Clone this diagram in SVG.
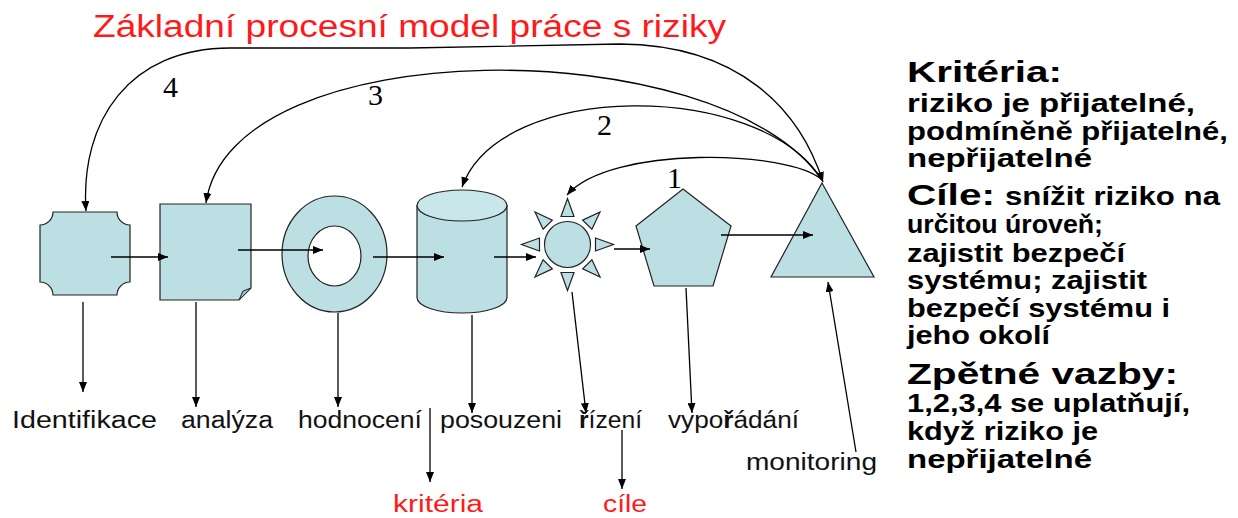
<svg xmlns="http://www.w3.org/2000/svg" xmlns:xlink="http://www.w3.org/1999/xlink" width="1238" height="518" viewBox="0 0 1238 518">
  <style>
    .shape { fill: #BBDFE3; stroke: #222; stroke-width: 1.2; }
    .line { fill: none; stroke: #000; stroke-width: 1.3; marker-end: url(#ah); }
    .title { font-family: "Liberation Sans", Arial, sans-serif; font-size: 31px; fill: #FF1A1A; }
    .lbl { font-family: "Liberation Sans", Arial, sans-serif; font-size: 23.5px; fill: #111; }
    .red { fill: #FF1A1A; }
    .num { font-family: "Liberation Serif", "Times New Roman", serif; font-size: 30px; fill: #000; }
    .head { font-family: "Liberation Sans", Arial, sans-serif; font-weight: bold; font-size: 30px; fill: #000; }
    .body { font-family: "Liberation Sans", Arial, sans-serif; font-weight: bold; font-size: 25px; fill: #000; }
  </style>
  <defs>
    <marker id="ah" markerWidth="10" markerHeight="8" refX="10" refY="4" orient="auto" markerUnits="userSpaceOnUse">
      <path d="M0,0 L10,4 L0,8 Z" fill="#000"/>
    </marker>
    <marker id="ahs" markerWidth="10" markerHeight="8" refX="10" refY="4" orient="auto-start-reverse" markerUnits="userSpaceOnUse">
      <path d="M0,0 L10,4 L0,8 Z" fill="#000"/>
    </marker>
    <polygon id="ray" class="shape" points="595.5,238 613.5,244.5 595.5,251"/>
  </defs>

  <rect width="1238" height="518" fill="#fff"/>

  <text class="title" x="93" y="37" textLength="633" lengthAdjust="spacingAndGlyphs">Základní procesní model práce s riziky</text>

  <!-- process shapes -->
  <g id="identifikace">
    <path class="shape" d="M53 212 H117 A13 13 0 0 0 130 225 V282 A13 13 0 0 0 117 295 H53 A13 13 0 0 0 40 282 V225 A13 13 0 0 0 53 212 Z"/>
  </g>
  <g id="analyza">
    <path class="shape" d="M160 204 H251 V288 L239 300 H160 Z"/>
    <path d="M239 300 L243 291 L251 288 Z" fill="#9CC3C8" stroke="#222" stroke-width="1"/>
  </g>
  <g id="hodnoceni">
    <ellipse class="shape" cx="334.5" cy="254" rx="52.5" ry="58"/>
    <ellipse cx="334.5" cy="256" rx="26.5" ry="30" fill="#fff" stroke="#222" stroke-width="1.2"/>
  </g>
  <g id="posouzeni">
    <path class="shape" d="M417 205.5 V297.5 A45 15.5 0 0 0 507 297.5 V205.5 Z"/>
    <ellipse cx="462" cy="205.5" rx="45" ry="15.5" fill="#C9E7EA" stroke="#222" stroke-width="1.2"/>
  </g>
  <g id="rizeni">
    <circle class="shape" cx="567.5" cy="244.5" r="23"/>
    <use xlink:href="#ray"/>
    <use xlink:href="#ray" transform="rotate(45 567.5 244.5)"/>
    <use xlink:href="#ray" transform="rotate(90 567.5 244.5)"/>
    <use xlink:href="#ray" transform="rotate(135 567.5 244.5)"/>
    <use xlink:href="#ray" transform="rotate(180 567.5 244.5)"/>
    <use xlink:href="#ray" transform="rotate(225 567.5 244.5)"/>
    <use xlink:href="#ray" transform="rotate(270 567.5 244.5)"/>
    <use xlink:href="#ray" transform="rotate(315 567.5 244.5)"/>
  </g>
  <g id="vyporadani">
    <polygon class="shape" points="683,189 731,226 713,286 654,286 636,226"/>
  </g>
  <g id="monitoring">
    <polygon class="shape" points="822,183 874,277 771,277"/>
  </g>

  <!-- connectors -->
  <g id="connectors">
    <!-- main flow -->
    <line class="line" x1="111" y1="257" x2="168" y2="257"/>
    <line class="line" x1="238" y1="250" x2="323" y2="250"/>
    <line class="line" x1="373" y1="257" x2="444" y2="257"/>
    <line class="line" x1="494" y1="257" x2="536" y2="257"/>
    <line class="line" x1="614" y1="249" x2="650" y2="249"/>
    <line class="line" x1="721" y1="235" x2="813" y2="235"/>
    <!-- down to the step names -->
    <line class="line" x1="83" y1="302" x2="83" y2="392"/>
    <line class="line" x1="196" y1="302" x2="196" y2="407"/>
    <line class="line" x1="338" y1="313" x2="338" y2="407"/>
    <line class="line" x1="472" y1="315" x2="472" y2="413"/>
    <line class="line" x1="572" y1="292" x2="586" y2="413"/>
    <line class="line" x1="686" y1="288" x2="692" y2="413"/>
    <line class="line" x1="856" y1="452" x2="828" y2="282"/>
    <line class="line" x1="430" y1="408" x2="430" y2="482"/>
    <line class="line" x1="622" y1="430" x2="622" y2="489"/>
    <!-- feedback loops 1-4 -->
    <path class="line" d="M822 180 C790 150, 610 145, 567 195"/>
    <path class="line" d="M822 180 C760 80, 500 80, 462 187"/>
    <path class="line" d="M822 180 C720 30, 230 30, 206 203"/>
    <path class="line" marker-start="url(#ahs)" d="M823 182 C800 110, 740 45, 620 44 L410 48 L230 48 C130 48, 80 120, 86 211"/>
  </g>

  <!-- loop numbers -->
  <text class="num" x="163" y="97">4</text>
  <text class="num" x="368" y="105">3</text>
  <text class="num" x="597" y="135">2</text>
  <text class="num" x="667" y="188">1</text>

  <!-- step names -->
  <text class="lbl" x="12" y="428" textLength="145" lengthAdjust="spacingAndGlyphs">Identifikace</text>
  <text class="lbl" x="181" y="428" textLength="92" lengthAdjust="spacingAndGlyphs">analýza</text>
  <text class="lbl" x="298" y="428" textLength="124" lengthAdjust="spacingAndGlyphs">hodnocení</text>
  <text class="lbl" x="440" y="428" textLength="122" lengthAdjust="spacingAndGlyphs">posouzeni</text>
  <text class="lbl" x="579" y="428" textLength="63" lengthAdjust="spacingAndGlyphs"><tspan font-weight="bold">ř</tspan>ízení</text>
  <text class="lbl" x="668" y="428" textLength="131" lengthAdjust="spacingAndGlyphs">vypo<tspan font-weight="bold">ř</tspan>ádání</text>
  <text class="lbl" x="746" y="470" textLength="131" lengthAdjust="spacingAndGlyphs">monitoring</text>
  <text class="lbl red" x="393" y="512" textLength="90" lengthAdjust="spacingAndGlyphs">kritéria</text>
  <text class="lbl red" x="603" y="512" textLength="44" lengthAdjust="spacingAndGlyphs">cíle</text>

  <!-- notes -->
  <g id="notes">
    <text class="head" x="907" y="82" textLength="155" lengthAdjust="spacingAndGlyphs">Kritéria:</text>
    <text class="body" x="907" y="112" textLength="288" lengthAdjust="spacingAndGlyphs">riziko je přijatelné,</text>
    <text class="body" x="907" y="140" textLength="321" lengthAdjust="spacingAndGlyphs">podmíněně přijatelné,</text>
    <text class="body" x="907" y="167" textLength="185" lengthAdjust="spacingAndGlyphs">nepřijatelné</text>
    <text class="head" x="907" y="205" textLength="88" lengthAdjust="spacingAndGlyphs">Cíle:</text>
    <text class="body" x="1005" y="205" textLength="215" lengthAdjust="spacingAndGlyphs">snížit riziko na</text>
    <text class="body" x="907" y="233" textLength="196" lengthAdjust="spacingAndGlyphs">určitou úroveň;</text>
    <text class="body" x="907" y="262" textLength="218" lengthAdjust="spacingAndGlyphs">zajistit bezpečí</text>
    <text class="body" x="907" y="289" textLength="240" lengthAdjust="spacingAndGlyphs">systému; zajistit</text>
    <text class="body" x="907" y="317" textLength="263" lengthAdjust="spacingAndGlyphs">bezpečí systému i</text>
    <text class="body" x="907" y="344" textLength="143" lengthAdjust="spacingAndGlyphs">jeho okolí</text>
    <text class="head" x="907" y="384" textLength="271" lengthAdjust="spacingAndGlyphs">Zpětné vazby:</text>
    <text class="body" x="907" y="412" textLength="283" lengthAdjust="spacingAndGlyphs">1,2,3,4 se uplatňují,</text>
    <text class="body" x="907" y="440" textLength="191" lengthAdjust="spacingAndGlyphs">když riziko je</text>
    <text class="body" x="907" y="468" textLength="185" lengthAdjust="spacingAndGlyphs">nepřijatelné</text>
  </g>
</svg>
